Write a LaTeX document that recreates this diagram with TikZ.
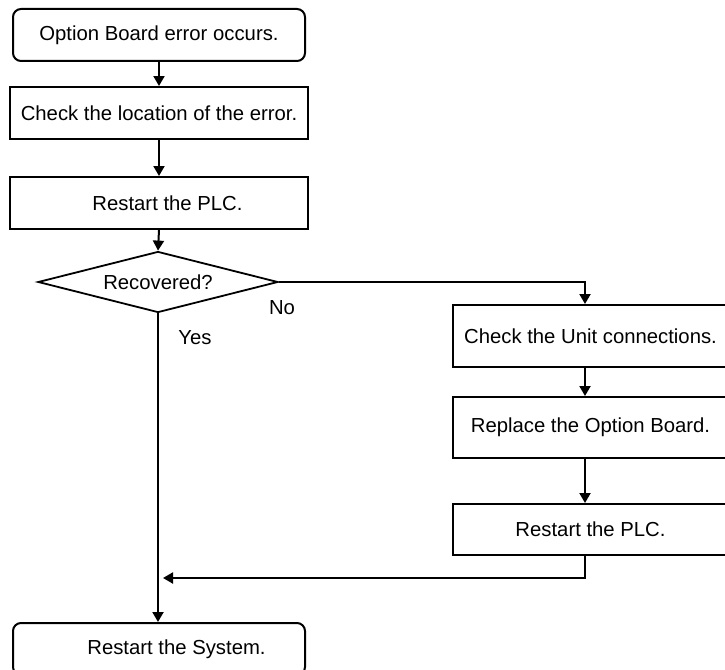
\documentclass[tikz,border=0pt]{standalone}
\usepackage{fontspec}
\setmainfont{Liberation Sans}
\usetikzlibrary{shapes.geometric,arrows.meta,calc}
\begin{document}
\begin{tikzpicture}[x=1pt,y=-1pt,
  every node/.style={font=\fontsize{20.3}{24}\selectfont, inner sep=0pt},
  stepbox/.style={draw, line width=2pt, minimum height=52pt, anchor=north west},
  roundbox/.style={stepbox, rounded corners=8pt},
  decide/.style={draw, diamond, line width=1.8pt, aspect=4, minimum width=240pt, minimum height=61pt},
  flow/.style={line width=2pt, -{Triangle[length=10pt,width=11pt]}}]
\useasboundingbox (0,0) rectangle (725,669);
\node[roundbox, minimum width=292pt] (b1) at (12,8) {Option Board error occurs.};
\node[stepbox, minimum width=298pt] (b2) at (9,86) {Check the location of the error.};
\node[stepbox, minimum width=298pt] (b3) at (9,176) {\hspace*{17pt}Restart the PLC.};
\node[decide] (dia) at (158,282) {Recovered?};
\node[stepbox, minimum width=275pt, minimum height=62pt] (b4) at (452,304) {Check the Unit connections.};
\node[stepbox, minimum width=275pt, minimum height=61pt] (b5) at (452,396) {Replace the Option Board.};
\node[stepbox, minimum width=275pt, minimum height=51pt] (b6) at (452,503) {Restart the PLC.};
\node[roundbox, minimum width=292pt] (b7) at (12,622) {\hspace*{35pt}Restart the System.};
\node (no) at (282,308) {No};
\node (yes) at (195,338) {Yes};
\coordinate (join) at (158,578);
\draw[flow] (b1.south -| b2.north) -- (b2.north);
\draw[flow] (b2.south) -- (b3.north);
\draw[flow] (b3.south) -- (dia.north);
\draw[flow] (dia.east) -| ([xshift=-5.5pt]b4.north);
\draw[flow] ([xshift=-5.5pt]b4.south) -- ([xshift=-5.5pt]b5.north);
\draw[flow] ([xshift=-5.5pt]b5.south) -- ([xshift=-5.5pt]b6.north);
\draw[flow] (dia.south) -- (b7.north -| dia.south);
\draw[flow, shorten >=5pt] ([xshift=-5.5pt]b6.south) |- (join);
\end{tikzpicture}
\end{document}
